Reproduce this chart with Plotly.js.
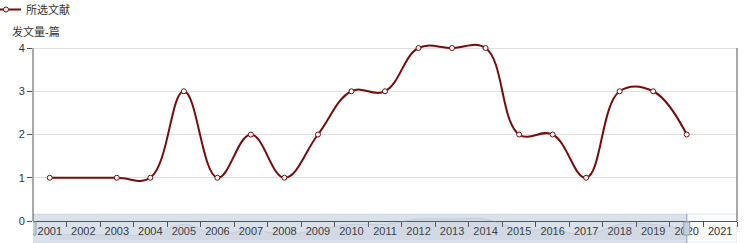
<!DOCTYPE html>
<html>
<head>
<meta charset="utf-8">
<script src="https://cdn.plot.ly/plotly-3.0.1.min.js"></script>
<style>
  html, body { margin: 0; padding: 0; background: #fff; }
  #chart { width: 746px; height: 243px; }
</style>
</head>
<body>
<div id="chart"></div>
<script>
// ---- data ----
const years = ['2001','2002','2003','2004','2005','2006','2007','2008','2009','2010','2011',
               '2012','2013','2014','2015','2016','2017','2018','2019','2020','2021'];
const counts = [1, null, 1, 1, 3, 1, 2, 1, 2, 3, 3, 4, 4, 4, 2, 2, 1, 3, 3, 2, null];
const seriesName = '所选文献';
const yAxisTitle = '发文量-篇';
const yTicks = [0, 1, 2, 3, 4];
const yMax = 4;

const FONT = '"Liberation Sans", "Noto Sans CJK SC", Arial, sans-serif';
const lineColor = '#7a0b0b';
const axisColor = '#555';

// plot area geometry (pixels)
const H = 243, mT = 40, mB = 3;
const plotH = H - mT - mB;          // 200
const yZeroPx = 221, yTopPx = 48;   // where 0 and yMax sit
const domBottom = (H - mB - yZeroPx) / plotH;
const yRangeTop = yMax * (H - mB - mT - (H - mB - yZeroPx)) / (yZeroPx - yTopPx);

const traces = [
  {
    x: years, y: counts, name: seriesName, type: 'scatter', mode: 'lines+markers',
    connectgaps: true,
    line: { color: lineColor, width: 2, shape: 'spline', smoothing: 1.15 },
    marker: { symbol: 'circle', size: 5, color: '#ffffff', line: { color: lineColor, width: 1 } },
    cliponaxis: false,
    hoverinfo: 'x+y'
  },
  {
    // data shadow inside the slider
    x: years, y: counts, yaxis: 'y2', type: 'scatter', mode: 'lines',
    connectgaps: true, showlegend: false, hoverinfo: 'skip',
    line: { color: 'rgba(150,165,190,0.35)', width: 0.8, shape: 'spline' },
    fill: 'tozeroy', fillcolor: 'rgba(150,165,190,0.12)'
  }
];

const layout = {
  width: 746, height: H,
  margin: { l: 33, r: 9, t: mT, b: mB, autoexpand: false },
  paper_bgcolor: '#ffffff', plot_bgcolor: 'rgba(0,0,0,0)',
  font: { family: FONT, size: 11, color: '#333333' },
  showlegend: true,
  legend: {
    orientation: 'h', x: -0.0668, y: 1.225, xanchor: 'left', yanchor: 'top',
    xref: 'paper', yref: 'paper',
    font: { family: FONT, size: 11, color: '#333' },
    bgcolor: 'rgba(0,0,0,0)', itemwidth: 30
  },
  xaxis: {
    type: 'category', categoryorder: 'array', categoryarray: years,
    range: [-0.5, years.length - 0.5],
    showgrid: false, zeroline: false,
    showline: true, linecolor: axisColor, linewidth: 1,
    ticks: 'outside', ticklen: 5, tickcolor: axisColor, tickwidth: 1,
    tickson: 'boundaries', tickangle: 0,
    tickfont: { family: FONT, size: 11, color: '#333' },
    anchor: 'y', fixedrange: true, automargin: false
  },
  yaxis: {
    domain: [domBottom, 1], range: [0, yRangeTop],
    tickmode: 'array', tickvals: yTicks,
    showgrid: true, gridcolor: '#e0e0e0', gridwidth: 1,
    zeroline: false, showline: false,
    ticks: 'outside', ticklen: 5, tickcolor: axisColor,
    tickfont: { family: FONT, size: 11, color: '#333' },
    fixedrange: true, automargin: false
  },
  yaxis2: {
    domain: [0.0, 0.115], range: [0, 4.4], visible: false, fixedrange: true
  },
  shapes: [
    // y axis lines (left and right), from 0 to yMax
    { type: 'line', xref: 'paper', yref: 'y', x0: 0, x1: 0, y0: 0, y1: yMax,
      line: { color: axisColor, width: 1 } },
    { type: 'line', xref: 'paper', yref: 'y', x0: 1, x1: 1, y0: 0, y1: yMax,
      line: { color: axisColor, width: 1 } },
    // slider background box
    { type: 'rect', xref: 'x', yref: 'paper', x0: -0.5, x1: years.length - 0.5, y0: -0.015, y1: 0.13,
      line: { color: '#e4e7ee', width: 1 }, fillcolor: 'rgba(240,242,246,0.3)', layer: 'below' },
    // selected range
    { type: 'rect', xref: 'x', yref: 'paper', x0: -0.5, x1: 19, y0: -0.015, y1: 0.13,
      line: { width: 0 }, fillcolor: 'rgba(167,183,204,0.38)', layer: 'below' },
    // end handle line
    { type: 'line', xref: 'x', yref: 'paper', x0: 19, x1: 19, y0: -0.015, y1: 0.13,
      line: { color: '#a7b7cc', width: 1.5 } },
    // handles
    { type: 'rect', xref: 'x', yref: 'paper', x0: -0.59, x1: -0.41, y0: 0.025, y1: 0.09,
      line: { color: '#8fa0b7', width: 1 }, fillcolor: '#c5d0de' },
    { type: 'rect', xref: 'x', yref: 'paper', x0: 18.91, x1: 19.09, y0: 0.025, y1: 0.09,
      line: { color: '#8fa0b7', width: 1 }, fillcolor: '#c5d0de' }
  ],
  annotations: [
    { text: yAxisTitle, xref: 'paper', yref: 'paper', x: -0.033, y: (H - mB - 31) / plotH,
      xanchor: 'left', yanchor: 'middle',
      showarrow: false, font: { family: FONT, size: 11, color: '#333' } }
  ]
};

Plotly.newPlot('chart', traces, layout, { displayModeBar: false, staticPlot: true });
</script>
</body>
</html>
